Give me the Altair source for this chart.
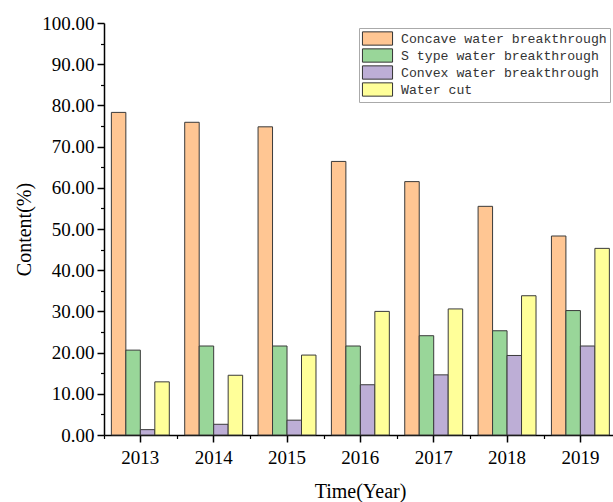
import altair as alt
import pandas as pd

years = ["2013", "2014", "2015", "2016", "2017", "2018", "2019"]
series = ["Concave water breakthrough", "S type water breakthrough",
          "Convex water breakthrough", "Water cut"]
concave = [78.3, 75.9, 74.8, 66.4, 61.5, 55.5, 48.3]
s_type = [20.6, 21.6, 21.6, 21.6, 24.1, 25.3, 30.2]
convex = [1.3, 2.6, 3.6, 12.2, 14.6, 19.3, 21.6]
water_cut = [12.9, 14.5, 19.4, 30.0, 30.6, 33.8, 45.3]
colors = ["#FFC693", "#99D699", "#BDAED6", "#FFFF99"]
y_major = [0, 10, 20, 30, 40, 50, 60, 70, 80, 90, 100]
y_minor = [5, 15, 25, 35, 45, 55, 65, 75, 85, 95]

rows = []
for name, vals in zip(series, [concave, s_type, convex, water_cut]):
    for yr, v in zip(years, vals):
        rows.append({"year": yr, "series": name, "value": v})
df = pd.DataFrame(rows)

SERIF = "Liberation Serif"
W, H = 509, 412
P_IN, P_OUT = 0.21, 0.075
step = W / (len(years) - P_IN + 2 * P_OUT)
xscale = alt.Scale(domain=years, paddingInner=P_IN, paddingOuter=P_OUT, align=0.67)
yscale = alt.Scale(domain=[0, 100], nice=False, zero=True)

ghost = alt.Chart(df).mark_bar(opacity=0).encode(
    x=alt.X("year:N", sort=years, scale=xscale,
            axis=alt.Axis(tickOffset=-step / 2, labels=False, domain=False, ticks=True,
                          tickSize=3.5, tickColor="black", tickWidth=1.2, title=None,
                          orient="bottom", grid=False)),
    y=alt.Y("value:Q", stack=None, scale=yscale,
            axis=alt.Axis(values=y_minor, labels=False, domain=False, tickSize=3.5,
                          tickColor="black", tickWidth=1.2, title=None,
                          orient="left", grid=False)),
)

bars = alt.Chart(df).mark_bar(stroke="#3a3a3a", strokeWidth=1).encode(
    x=alt.X("year:N", sort=years, scale=xscale,
            axis=alt.Axis(title="Time(Year)", labelAngle=0, labelFont=SERIF,
                          labelFontSize=19, labelColor="black", labelPadding=6,
                          domainColor="black", domainWidth=1.5, tickColor="black",
                          tickSize=7, tickWidth=1.5, titleFont=SERIF, titleFontSize=20,
                          titleFontWeight="normal", titleColor="black", titleX=256,
                          titleY=56, titleBaseline="middle", titleAlign="center",
                          orient="bottom", grid=False)),
    xOffset=alt.XOffset("series:N", sort=series,
                        scale=alt.Scale(domain=series, paddingInner=0, paddingOuter=0)),
    y=alt.Y("value:Q", stack=None, scale=yscale,
            axis=alt.Axis(values=y_major, format=".2f", title="Content(%)",
                          labelFont=SERIF, labelFontSize=19, labelColor="black",
                          labelPadding=3, domainColor="black", domainWidth=1.5,
                          tickColor="black", tickSize=7, tickWidth=1.5,
                          titleFont=SERIF, titleFontSize=20, titleFontWeight="normal",
                          titleColor="black", titleX=-80, titleY=206, titleAngle=270,
                          titleAlign="center", titleBaseline="middle",
                          orient="left", grid=False)),
    color=alt.Color("series:N", sort=series,
                    scale=alt.Scale(domain=series, range=colors),
                    legend=alt.Legend(title=None, orient="none", legendX=255, legendY=5,
                                      symbolType="M-2.15,-0.95H2.15V0.95H-2.15Z",
                                      symbolSize=196,
                                      symbolStrokeColor="#333", symbolStrokeWidth=1,
                                      symbolOffset=8, labelOffset=16,
                                      labelFont="Liberation Mono", labelFontSize=13.2,
                                      labelColor="#333", fillColor="white",
                                      strokeColor="#aaaaaa", padding=3, rowPadding=-2,
                                      labelLimit=400)),
)

chart = alt.layer(ghost, bars).resolve_axis(x="independent", y="independent").properties(
    width=W, height=H,
    padding={"left": 104, "top": 23, "right": 0, "bottom": 67},
    autosize=alt.AutoSizeParams(type="none"),
).configure_view(stroke=None)

chart.save("out.html", embed_options={"renderer": "svg", "actions": False})
